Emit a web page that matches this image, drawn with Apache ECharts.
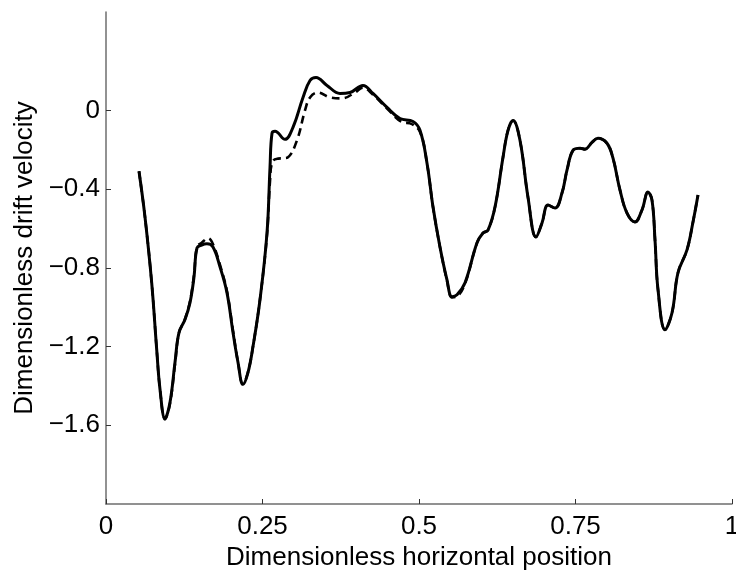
<!DOCTYPE html>
<html>
<head>
<meta charset="utf-8">
<style>
  html, body { margin: 0; padding: 0; background: #ffffff; }
  #chart { width: 736px; height: 572px; }
</style>
<script src="https://cdn.jsdelivr.net/npm/echarts@6/dist/echarts.min.js"></script>
</head>
<body>
<div id="chart"></div>
<script>
// Tick positions shown on each axis
const xTicks = [0, 0.25, 0.5, 0.75, 1];
const yTicks = [-1.6, -1.2, -0.8, -0.4, 0];

// Drift velocity profile, solid curve: [position, velocity]
const solidCurve = [
  [0.0527, -0.309], [0.0623, -0.542], [0.0730, -0.876], [0.0810, -1.215],
  [0.0863, -1.418], [0.0942, -1.565], [0.1022, -1.484], [0.1102, -1.281],
  [0.1166, -1.129], [0.1262, -1.063], [0.1342, -0.977], [0.1406, -0.846],
  [0.1454, -0.699], [0.1529, -0.684], [0.1613, -0.678], [0.1709, -0.694],
  [0.1821, -0.795], [0.1933, -0.927], [0.2029, -1.129], [0.2109, -1.281],
  [0.2188, -1.392], [0.2268, -1.332], [0.2348, -1.200], [0.2460, -0.962],
  [0.2572, -0.623], [0.2620, -0.289], [0.2652, -0.116], [0.2700, -0.106],
  [0.2859, -0.147], [0.2987, -0.086], [0.3147, 0.066], [0.3259, 0.152],
  [0.3355, 0.167], [0.3530, 0.127], [0.3738, 0.086], [0.3898, 0.091],
  [0.4105, 0.127], [0.4265, 0.086], [0.4489, 0.015], [0.4696, -0.041],
  [0.4904, -0.056], [0.5016, -0.101], [0.5128, -0.268], [0.5224, -0.491],
  [0.5335, -0.694], [0.5447, -0.861], [0.5527, -0.947], [0.5607, -0.937],
  [0.5735, -0.876], [0.5927, -0.673], [0.6022, -0.623], [0.6102, -0.608],
  [0.6214, -0.491], [0.6342, -0.238], [0.6422, -0.101], [0.6502, -0.051],
  [0.6613, -0.152], [0.6741, -0.441], [0.6869, -0.643], [0.6965, -0.572],
  [0.7061, -0.481], [0.7173, -0.496], [0.7284, -0.420], [0.7364, -0.304],
  [0.7460, -0.203], [0.7572, -0.192], [0.7652, -0.197], [0.7764, -0.162],
  [0.7859, -0.142], [0.8003, -0.167], [0.8099, -0.243], [0.8211, -0.405],
  [0.8323, -0.522], [0.8450, -0.567], [0.8562, -0.506], [0.8658, -0.415],
  [0.8722, -0.456], [0.8770, -0.658], [0.8818, -0.911], [0.8930, -1.114],
  [0.9042, -1.028], [0.9137, -0.825], [0.9281, -0.709], [0.9377, -0.567],
  [0.9457, -0.430]
];

// Drift velocity profile, dashed curve: [position, velocity]
const dashedCurve = [
  [0.0527, -0.309], [0.0623, -0.542], [0.0730, -0.876], [0.0810, -1.215],
  [0.0863, -1.418], [0.0942, -1.570], [0.1022, -1.490], [0.1102, -1.290],
  [0.1166, -1.130], [0.1262, -1.060], [0.1342, -0.970], [0.1406, -0.835],
  [0.1454, -0.695], [0.1529, -0.672], [0.1630, -0.650], [0.1709, -0.680],
  [0.1821, -0.785], [0.1933, -0.920], [0.2029, -1.120], [0.2109, -1.280],
  [0.2188, -1.390], [0.2268, -1.330], [0.2348, -1.200], [0.2460, -0.960],
  [0.2572, -0.630], [0.2620, -0.360], [0.2660, -0.260], [0.2750, -0.245],
  [0.2827, -0.243], [0.2907, -0.238], [0.3051, -0.152], [0.3179, 0.000],
  [0.3259, 0.066], [0.3387, 0.091], [0.3578, 0.066], [0.3770, 0.061],
  [0.3978, 0.091], [0.4105, 0.116], [0.4265, 0.080], [0.4489, 0.010],
  [0.4744, -0.061], [0.4856, -0.066], [0.5016, -0.110], [0.5128, -0.270],
  [0.5224, -0.491], [0.5335, -0.694], [0.5447, -0.865], [0.5527, -0.950],
  [0.5607, -0.945], [0.5735, -0.880], [0.5927, -0.673], [0.6022, -0.623],
  [0.6102, -0.608], [0.6214, -0.491], [0.6342, -0.238], [0.6422, -0.101],
  [0.6502, -0.051], [0.6613, -0.152], [0.6741, -0.441], [0.6869, -0.643],
  [0.6965, -0.572], [0.7061, -0.481], [0.7173, -0.496], [0.7284, -0.420],
  [0.7364, -0.304], [0.7460, -0.203], [0.7572, -0.192], [0.7652, -0.197],
  [0.7764, -0.162], [0.7859, -0.142], [0.8003, -0.167], [0.8099, -0.243],
  [0.8211, -0.405], [0.8323, -0.522], [0.8450, -0.567], [0.8562, -0.506],
  [0.8658, -0.415], [0.8722, -0.456], [0.8770, -0.658], [0.8818, -0.911],
  [0.8930, -1.114], [0.9042, -1.028], [0.9137, -0.825], [0.9281, -0.709],
  [0.9377, -0.567], [0.9457, -0.430]
];

const FONT = '"Liberation Sans", Arial, Helvetica, sans-serif';
const FONT_SIZE = 26;
const AXIS_GREY = '#6e6e6e';

function fmtTick(v) {
  const r = Math.round(v * 100) / 100;
  const s = String(Math.abs(r));
  return r < 0 ? '\u2212' + s : s;
}

const chart = echarts.init(document.getElementById('chart'), null, { renderer: 'canvas' });

chart.setOption({
  backgroundColor: '#ffffff',
  animation: false,
  grid: { left: 106, right: 4, top: 12, bottom: 68, containLabel: false, outerBoundsMode: 'none' },
  xAxis: {
    type: 'value',
    min: 0,
    max: 1,
    interval: 0.25,
    name: 'Dimensionless horizontal position',
    nameLocation: 'middle',
    nameGap: 37,
    nameTextStyle: { fontFamily: FONT, fontSize: FONT_SIZE, color: '#000', verticalAlign: 'middle' },
    axisLine: { show: true, onZero: false, lineStyle: { color: AXIS_GREY, width: 1.5 } },
    axisTick: { show: true, inside: true, length: 5, customValues: xTicks,
                lineStyle: { color: '#333', width: 1 } },
    axisLabel: { show: true, margin: 10, fontFamily: FONT, fontSize: FONT_SIZE, color: '#000',
                 customValues: xTicks, formatter: fmtTick },
    splitLine: { show: false }
  },
  yAxis: {
    type: 'value',
    min: -2,
    max: 0.5,
    name: 'Dimensionless drift velocity',
    nameLocation: 'middle',
    nameGap: 81,
    nameTextStyle: { fontFamily: FONT, fontSize: FONT_SIZE, color: '#000', verticalAlign: 'middle' },
    axisLine: { show: true, onZero: false, lineStyle: { color: AXIS_GREY, width: 1.5 } },
    axisTick: { show: true, inside: true, length: 5, customValues: yTicks,
                lineStyle: { color: '#333', width: 1 } },
    axisLabel: { show: true, margin: 6, fontFamily: FONT, fontSize: FONT_SIZE, color: '#000',
                 customValues: yTicks, formatter: fmtTick },
    splitLine: { show: false }
  },
  series: [
    {
      name: 'dashed',
      type: 'line',
      data: dashedCurve,
      smooth: 0.4,
      symbol: 'none',
      lineStyle: { color: '#000', width: 2.6, type: [8, 5] },
      z: 2
    },
    {
      name: 'solid',
      type: 'line',
      data: solidCurve,
      smooth: 0.4,
      symbol: 'none',
      lineStyle: { color: '#000', width: 3 },
      z: 3
    }
  ]
});
</script>
</body>
</html>
